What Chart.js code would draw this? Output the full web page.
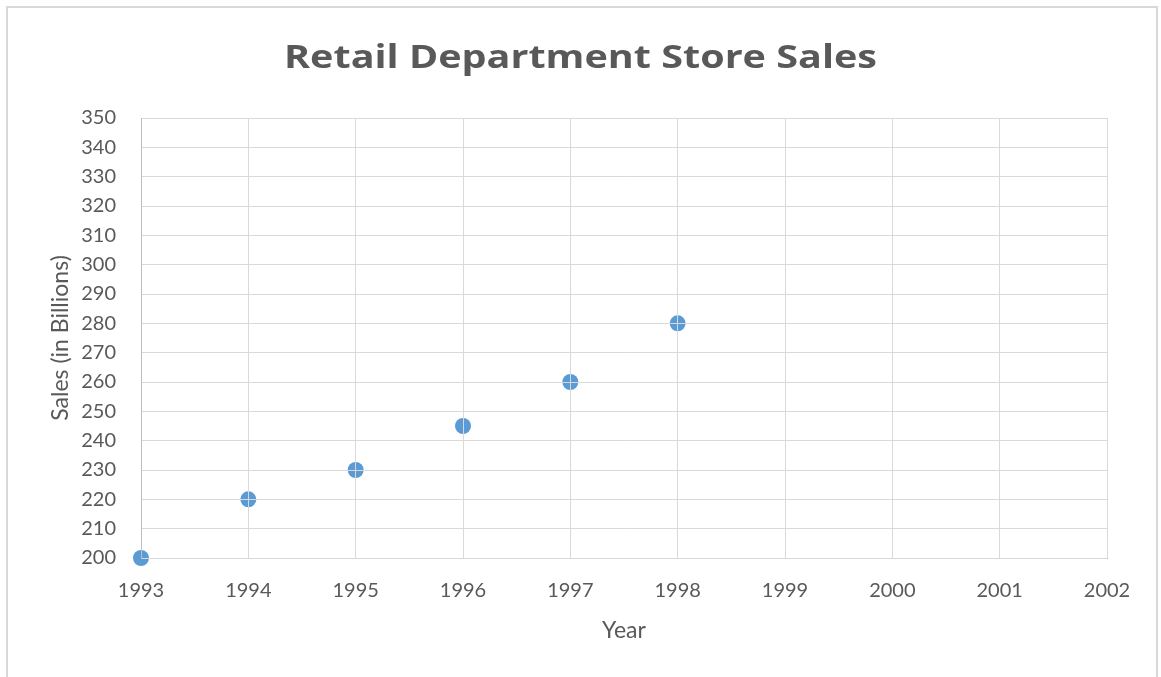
<!DOCTYPE html>
<html>
<head>
<meta charset="utf-8">
<script src="https://cdn.jsdelivr.net/npm/chart.js@4.4.1/dist/chart.umd.min.js"></script>
<style>
  html, body { margin: 0; padding: 0; background: #fff; overflow: hidden; width: 1161px; height: 677px; }
  #frame {
    position: absolute; left: 6px; top: 6px; width: 1152px; height: 680px;
    border: 2px solid #d9d9d9; box-sizing: border-box;
  }
  #wrap { position: absolute; left: 0; top: 0; width: 1161px; height: 677px; }
</style>
</head>
<body>
<div id="frame"></div>
<div id="wrap"><canvas id="chart" width="1161" height="677"></canvas></div>
<script>
  // values
  var years = [1993, 1994, 1995, 1996, 1997, 1998];
  var sales = [200, 220, 230, 245, 260, 280];
  var yearTicks = [1993, 1994, 1995, 1996, 1997, 1998, 1999, 2000, 2001, 2002];
  var salesTicks = [200, 210, 220, 230, 240, 250, 260, 270, 280, 290, 300, 310, 320, 330, 340, 350];
  var chartTitle = "Retail Department Store Sales";

  var textColor = "#595959";
  var gridColor = "#d9d9d9";
  var font = "Lato, 'Open Sans', sans-serif";

  var points = years.map(function (y, i) {
    return { x: y, y: sales[i] };
  });

  // title centred on the whole canvas, a bit wider than Open Sans draws it
  var pageTitle = {
    id: "pageTitle",
    afterDraw: function (chart) {
      var ctx = chart.ctx;
      ctx.save();
      ctx.fillStyle = textColor;
      ctx.font = "bold 33px 'Open Sans', sans-serif";
      ctx.textAlign = "center";
      ctx.textBaseline = "middle";
      var sx = 593 / ctx.measureText(chartTitle).width;
      ctx.translate(chart.width / 2, 59);
      ctx.scale(sx, 1);
      ctx.fillText(chartTitle, 0, 0);
      ctx.restore();
    }
  };

  new Chart(document.getElementById("chart"), {
    type: "scatter",
    data: {
      datasets: [{
        label: "Sales",
        data: points,
        backgroundColor: "#5b9bd5",
        borderWidth: 0,
        pointRadius: 8,
        pointHoverRadius: 8,
        clip: false,
      }],
    },
    plugins: [pageTitle],
    options: {
      responsive: false,
      animation: false,
      layout: { padding: { left: 0, right: 54, top: 118, bottom: 0 } },
      plugins: {
        legend: { display: false },
        tooltip: { enabled: false },
        title: { display: false },
      },
      scales: {
        x: {
          type: "linear",
          min: yearTicks[0],
          max: yearTicks[yearTicks.length - 1],
          afterBuildTicks: function (scale) {
            scale.ticks = yearTicks.map(function (v) { return { value: v }; });
          },
          afterFit: function (scale) { scale.height = 119; },
          ticks: {
            color: textColor,
            font: { family: font, size: 20 },
            padding: 21,
            maxRotation: 0,
            callback: function (v) { return String(v); },
          },
          grid: { color: gridColor, lineWidth: 1, drawTicks: false, z: 1 },
          border: { color: "#bfbfbf", width: 1, z: 1 },
          title: {
            display: true,
            text: "Year",
            color: textColor,
            font: { family: font, size: 23 },
            padding: { top: 0, bottom: 33 },
          },
        },
        y: {
          min: salesTicks[0],
          max: salesTicks[salesTicks.length - 1],
          afterBuildTicks: function (scale) {
            scale.ticks = salesTicks.map(function (v) { return { value: v }; });
          },
          afterFit: function (scale) { scale.width = 141; },
          ticks: {
            color: textColor,
            font: { family: font, size: 20 },
            padding: 25,
            callback: function (v) { return String(v); },
          },
          grid: { color: gridColor, lineWidth: 1, drawTicks: false, z: 1 },
          border: { color: "#bfbfbf", width: 1, z: 1 },
          title: {
            display: true,
            text: "Sales (in Billions)",
            color: textColor,
            font: { family: font, size: 23 },
            padding: { top: 47, bottom: 0 },
          },
        },
      },
    },
  });
</script>
</body>
</html>
